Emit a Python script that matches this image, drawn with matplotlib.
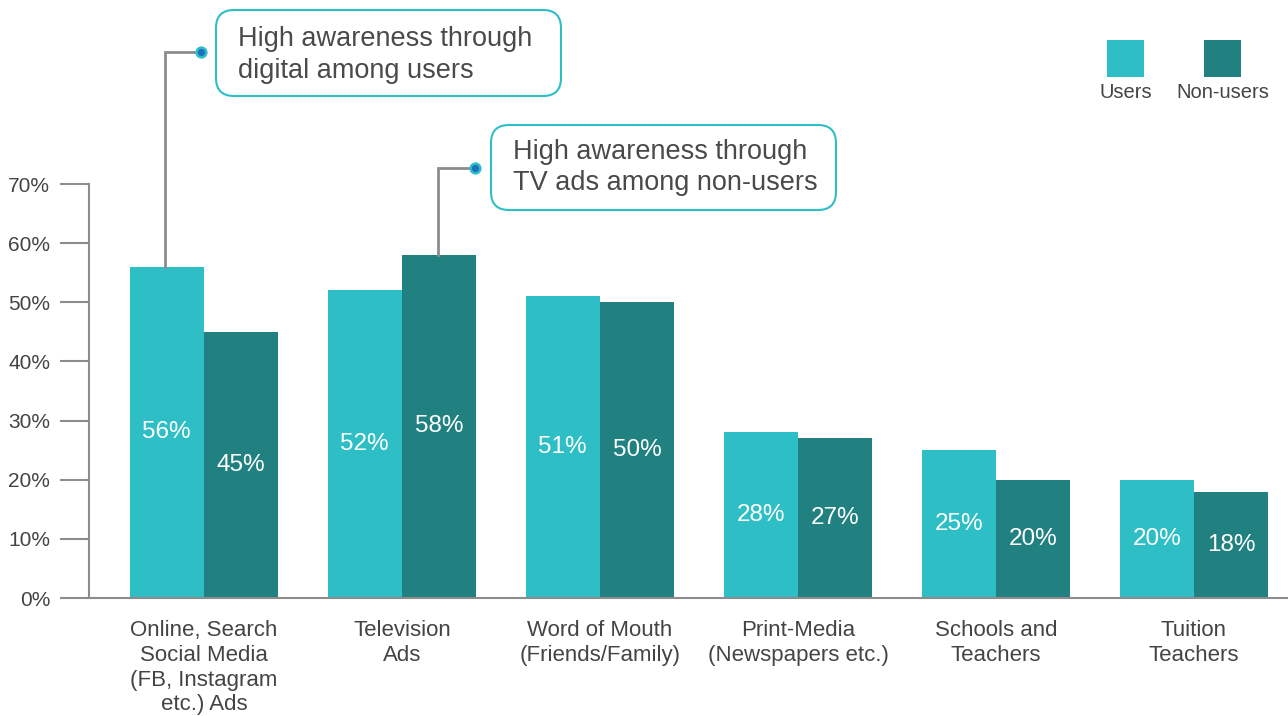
import matplotlib
matplotlib.use('AGG')
import matplotlib.pyplot as plt
import numpy as np
from matplotlib.patches import FancyBboxPatch, Rectangle
from matplotlib.transforms import IdentityTransform

plt.rcParams['font.family'] = ['Liberation Sans', 'DejaVu Sans']

categories = ['Online, Search\nSocial Media\n(FB, Instagram\netc.) Ads',
              'Television\nAds',
              'Word of Mouth\n(Friends/Family)',
              'Print-Media\n(Newspapers etc.)',
              'Schools and\nTeachers',
              'Tuition\nTeachers']
users = [56, 52, 51, 28, 25, 20]
non_users = [45, 58, 50, 27, 20, 18]
yticks = [0, 10, 20, 30, 40, 50, 60, 70]

USERS_C = '#2ebec6'
NON_C = '#218080'
TEXT_C = '#444444'
LINE_C = '#8c8c8c'

W, H = 1288, 716
fig = plt.figure(figsize=(W / 100, H / 100), dpi=100)
ax = fig.add_axes([89 / W, 118 / H, (W - 89) / W, 414 / H])

x = np.arange(len(categories))
bw = 0.376
ax.bar(x - bw / 2, users, bw, color=USERS_C, label='Users')
ax.bar(x + bw / 2, non_users, bw, color=NON_C, label='Non-users')

# value labels in the middle of each bar
for xi, u, n in zip(x, users, non_users):
    ax.text(xi - bw / 2, u / 2, f'{u}%', color='white', fontsize=17.5,
            ha='center', va='center')
    ax.text(xi + bw / 2, n / 2, f'{n}%', color='white', fontsize=17.5,
            ha='center', va='center')

ax.set_xlim(-0.581, 5.475)
ax.set_ylim(0, 70)
ax.set_yticks(yticks)
ax.set_yticklabels([f'{t}%' for t in yticks])
ax.set_xticks(x)
ax.set_xticklabels(categories, linespacing=1.23)

for s in ['top', 'right']:
    ax.spines[s].set_visible(False)
for s in ['left', 'bottom']:
    ax.spines[s].set_color(LINE_C)
    ax.spines[s].set_linewidth(1.5)
ax.spines['left'].set_bounds(0, 70)
ax.tick_params(axis='y', length=21, width=1.5, color=LINE_C, labelsize=15,
               labelcolor=TEXT_C, pad=7)
ax.tick_params(axis='x', length=0, labelsize=16, labelcolor=TEXT_C, pad=16)

# callouts
callouts = [
    (0 - bw / 2 - 0.01, users[0], 92.3, -0.015, (216, 620, 345, 86), -2,
     'High awareness through\ndigital among users'),
    (1 + bw / 2 - 0.005, non_users[1], 72.7, 1.369, (491, 506, 345, 85), 0,
     'High awareness through\nTV ads among non-users'),
]
for bx, val, ytop, xdot, (px, py, pw, ph), dy, txt in callouts:
    ax.plot([bx, bx, xdot], [val, ytop, ytop], color=LINE_C, lw=2,
            clip_on=False, solid_joinstyle='miter')
    ax.plot(xdot, ytop, 'o', ms=7, mfc='#1f6fc0', mec=USERS_C, mew=1.8,
            clip_on=False)
    box = FancyBboxPatch((px + 18, py + 18), pw - 36, ph - 36,
                         boxstyle='round,pad=18', transform=IdentityTransform(),
                         fc='white', ec=USERS_C, lw=1.5)
    fig.add_artist(box)
    fig.text((px + 22) / W, (py + ph / 2 + dy) / H, txt, fontsize=19.5,
             color='#4a4a4a', ha='left', va='center', linespacing=1.25)

# legend
for (lx, lab, col) in [(1107, 'Users', USERS_C), (1204, 'Non-users', NON_C)]:
    fig.add_artist(Rectangle((lx, H - 77), 37, 37, transform=IdentityTransform(),
                             fc=col, ec='none'))
    fig.text((lx + 18.5) / W, (H - 93) / H, lab, fontsize=14.5, color=TEXT_C,
             ha='center', va='center')

fig.savefig('out.png', dpi=100)
